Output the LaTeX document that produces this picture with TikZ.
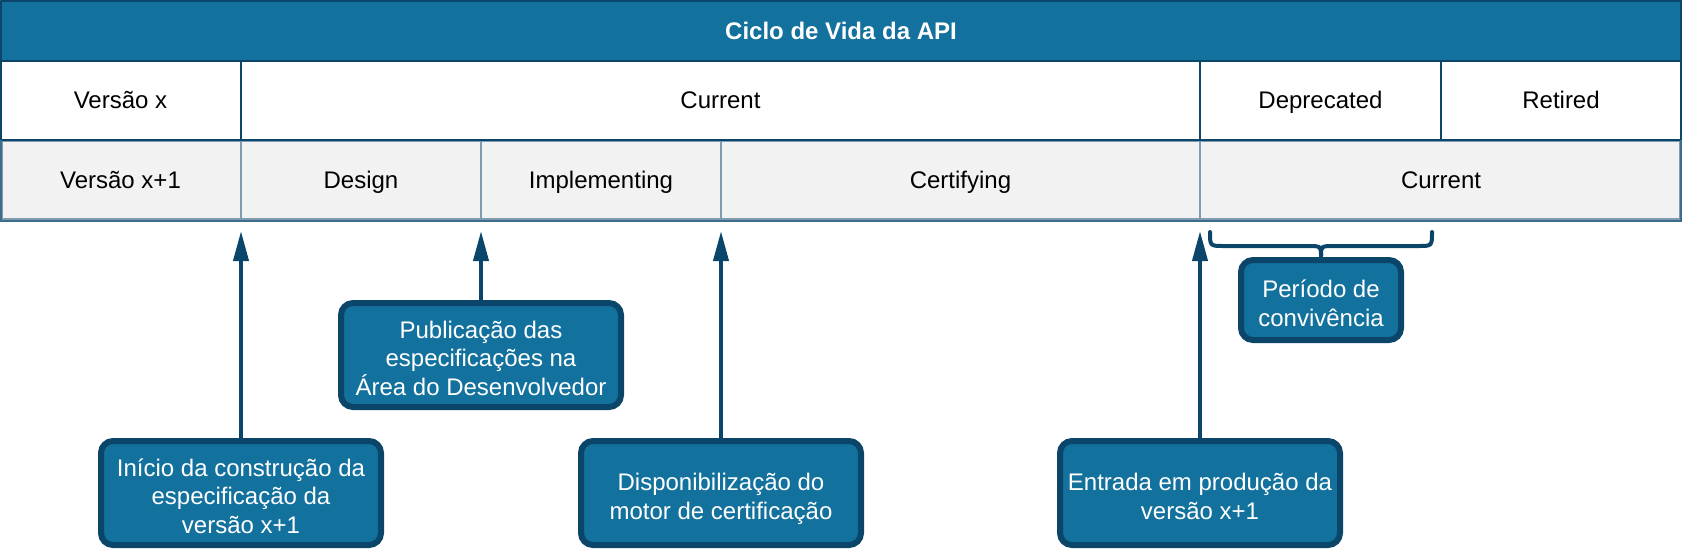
\documentclass[tikz,border=0pt]{standalone}
\usepackage{fontspec}
\setmainfont{Liberation Sans}
\usetikzlibrary{arrows.meta}
\definecolor{ablue}{HTML}{13719D}
\definecolor{adark}{HTML}{0B466A}
\definecolor{agray}{HTML}{F2F2F2}
\definecolor{alight}{HTML}{7D9CB2}
\definecolor{amid}{HTML}{3E6D8C}
\newcommand{\toprl}{\rule{0pt}{14.8pt}}
\newcommand{\botrl}{\rule[-3pt]{0pt}{0pt}}
\begin{document}
\begin{tikzpicture}[x=0.5pt,y=-0.5pt,
  txt/.style={font=\fontsize{12}{14.2}\selectfont},
  cell/.style={txt, inner sep=0pt, text=black, text height=11.2pt, text depth=2.6pt},
  callout/.style={txt, draw=adark, line width=3pt, fill=ablue, rounded corners=6pt,
    text=white, align=center, inner sep=0pt, minimum width=140pt, minimum height=52pt},
  conn/.style={draw=adark, line width=2pt, -{Triangle[length=15pt,width=7.5pt]}},
  bracestyle/.style={draw=adark, line width=2pt, line cap=round}]
\useasboundingbox (0,0) rectangle (1682,554);
% table backgrounds
\fill[ablue] (0,0) rectangle (1682,61);
\fill[white] (0,61) rectangle (1682,140);
\fill[agray] (0,140) rectangle (1682,221);
% row 2 lines (light)
\draw[alight, line width=0.8pt] (2,141) rectangle (1680,219);
\foreach \x in {241,481,721,1200} \draw[alight, line width=1pt] (\x,141) -- (\x,219);
% row 1 lines (dark)
\foreach \x in {241,1200,1441} \draw[adark, line width=1pt] (\x,61) -- (\x,140);
\draw[adark, line width=1pt] (0,61) -- (1682,61);
\draw[adark, line width=1pt] (0,140) -- (1682,140);
\draw[adark, line width=1.2pt] (1,1) -- (1681,1) -- (1681,140);
\draw[adark, line width=1.2pt] (1,1) -- (1,140);
\draw[amid, line width=1pt] (1,140) -- (1,221) -- (1681,221) -- (1681,140);
% texts
\node[cell, text=white, font=\fontsize{12}{14.2}\selectfont\bfseries] (title) at (841,31) {Ciclo de Vida da API};
\node[cell] (vx) at (120.5,100) {Versão x};
\node[cell] (cur1) at (720.5,100) {Current};
\node[cell] (dep) at (1320.5,100) {Deprecated};
\node[cell] (ret) at (1561,100) {Retired};
\node[cell] (vx1) at (120.5,180) {Versão x+1};
\node[cell] (des) at (361,180) {Design};
\node[cell] (imp) at (601,180) {Implementing};
\node[cell] (cert) at (960.5,180) {Certifying};
\node[cell] (cur2) at (1441,180) {Current};
% arrow targets
\coordinate (t1) at (241,231);
\coordinate (t2) at (481,231);
\coordinate (t3) at (721,231);
\coordinate (t4) at (1200,231);
% callouts
\node[callout] (b1) at (241,493) {\toprl Início da construção da\\especificação da\\versão x+1\botrl};
\node[callout] (b2) at (481,355) {\toprl Publicação das\\especificações na\\Área do Desenvolvedor\botrl};
\node[callout] (b3) at (721,493) {\toprl Disponibilização do\\motor de certificação\botrl};
\node[callout] (b4) at (1200,493) {\toprl Entrada em produção da\\versão x+1\botrl};
\node[callout, minimum width=80pt, minimum height=40pt] (b5) at (1321,300) {\toprl Período de\\convivência\botrl};
% connectors
\draw[conn] (b1.north) -- (t1);
\draw[conn] (b2.north) -- (t2);
\draw[conn] (b3.north) -- (t3);
\draw[conn] (b4.north) -- (t4);
% brace
\coordinate (bl) at (1210,232);
\coordinate (br) at (1432,232);
\draw[bracestyle] (bl) .. controls (1210,246) .. (1224,246) -- (1307,246)
  .. controls (1321,246) .. (1321,256);
\draw[bracestyle] (br) .. controls (1432,246) .. (1418,246) -- (1335,246)
  .. controls (1321,246) .. (1321,256);
\draw[bracestyle, line cap=butt] (1321,250) -- (b5.north);
\end{tikzpicture}
\end{document}
